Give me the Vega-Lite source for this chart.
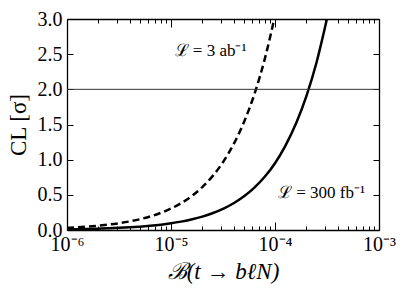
{
  "$schema": "https://vega.github.io/schema/vega-lite/v6.json",
  "width": 312,
  "height": 211,
  "autosize": {"type": "none"},
  "padding": {"left": 67, "top": 19, "right": 28, "bottom": 62},
  "config": {
    "view": {"stroke": null},
    "font": "Liberation Serif",
    "axis": {
      "domainColor": "#000",
      "domainWidth": 1.3,
      "tickColor": "#000",
      "tickWidth": 1,
      "labelColor": "#000",
      "titleColor": "#000",
      "labelFont": "Liberation Serif",
      "titleFont": "Liberation Serif",
      "labelFontSize": 20,
      "titleFontSize": 23,
      "titleFontWeight": "normal",
      "grid": false
    }
  },
  "datasets": {
    "curves": [
      {"series": "300fb", "B": 1e-6, "CL": 0.0095},
      {"series": "300fb", "B": 1.25e-6, "CL": 0.0119},
      {"series": "300fb", "B": 1.6e-6, "CL": 0.0152},
      {"series": "300fb", "B": 2e-6, "CL": 0.019},
      {"series": "300fb", "B": 2.5e-6, "CL": 0.0238},
      {"series": "300fb", "B": 3.2e-6, "CL": 0.0304},
      {"series": "300fb", "B": 4e-6, "CL": 0.038},
      {"series": "300fb", "B": 5e-6, "CL": 0.0475},
      {"series": "300fb", "B": 6.3e-6, "CL": 0.0599},
      {"series": "300fb", "B": 8e-6, "CL": 0.076},
      {"series": "300fb", "B": 1e-5, "CL": 0.095},
      {"series": "300fb", "B": 1.25e-5, "CL": 0.119},
      {"series": "300fb", "B": 1.6e-5, "CL": 0.152},
      {"series": "300fb", "B": 2e-5, "CL": 0.19},
      {"series": "300fb", "B": 2.5e-5, "CL": 0.238},
      {"series": "300fb", "B": 3.2e-5, "CL": 0.304},
      {"series": "300fb", "B": 4e-5, "CL": 0.38},
      {"series": "300fb", "B": 5e-5, "CL": 0.475},
      {"series": "300fb", "B": 6.3e-5, "CL": 0.599},
      {"series": "300fb", "B": 8e-5, "CL": 0.76},
      {"series": "300fb", "B": 1e-4, "CL": 0.95},
      {"series": "300fb", "B": 1.25e-4, "CL": 1.19},
      {"series": "300fb", "B": 1.6e-4, "CL": 1.52},
      {"series": "300fb", "B": 2e-4, "CL": 1.9},
      {"series": "300fb", "B": 2.5e-4, "CL": 2.375},
      {"series": "300fb", "B": 3.2e-4, "CL": 3.04},
      {"series": "3ab", "B": 1e-6, "CL": 0.0305},
      {"series": "3ab", "B": 1.25e-6, "CL": 0.0381},
      {"series": "3ab", "B": 1.6e-6, "CL": 0.0488},
      {"series": "3ab", "B": 2e-6, "CL": 0.061},
      {"series": "3ab", "B": 2.5e-6, "CL": 0.0763},
      {"series": "3ab", "B": 3.2e-6, "CL": 0.0976},
      {"series": "3ab", "B": 4e-6, "CL": 0.122},
      {"series": "3ab", "B": 5e-6, "CL": 0.1525},
      {"series": "3ab", "B": 6.3e-6, "CL": 0.192},
      {"series": "3ab", "B": 8e-6, "CL": 0.244},
      {"series": "3ab", "B": 1e-5, "CL": 0.305},
      {"series": "3ab", "B": 1.25e-5, "CL": 0.381},
      {"series": "3ab", "B": 1.6e-5, "CL": 0.488},
      {"series": "3ab", "B": 2e-5, "CL": 0.61},
      {"series": "3ab", "B": 2.5e-5, "CL": 0.763},
      {"series": "3ab", "B": 3.2e-5, "CL": 0.976},
      {"series": "3ab", "B": 4e-5, "CL": 1.22},
      {"series": "3ab", "B": 5e-5, "CL": 1.525},
      {"series": "3ab", "B": 6.3e-5, "CL": 1.92},
      {"series": "3ab", "B": 8e-5, "CL": 2.44},
      {"series": "3ab", "B": 1e-4, "CL": 3.05}
    ],
    "labels": [
      {"series": "3ab", "x": 2.4e-5, "y": 2.54, "label": "ℒ = 3 ab⁻¹"},
      {"series": "300fb", "x": 2.8e-4, "y": 0.53, "label": "ℒ = 300 fb⁻¹"}
    ],
    "ref": [{"y": 2}]
  },
  "layer": [
    {
      "data": {"name": "curves"},
      "transform": [{"filter": "datum.series == '300fb'"}],
      "mark": {"type": "line", "color": "#000", "strokeWidth": 2.5, "clip": true, "interpolate": "monotone"},
      "encoding": {
        "x": {
          "field": "B", "type": "quantitative",
          "scale": {"type": "log", "domain": [1e-6, 1e-3], "nice": false},
          "axis": {
            "orient": "bottom",
            "values": [1e-6, 1e-5, 1e-4, 1e-3],
            "tickSize": -8,
            "labelPadding": 12,
            "labelFlush": false,
            "labelOverlap": false,
            "labelExpr": "round(log(datum.value)/LN10) == -6 ? '10⁻⁶' : round(log(datum.value)/LN10) == -5 ? '10⁻⁵' : round(log(datum.value)/LN10) == -4 ? '10⁻⁴' : '10⁻³'",
            "title": "ℬ(t → bℓN)",
            "titleFontStyle": "italic",
            "titlePadding": 6
          }
        },
        "y": {
          "field": "CL", "type": "quantitative",
          "scale": {"domain": [0, 3], "nice": false},
          "axis": {
            "orient": "left",
            "values": [0, 0.5, 1, 1.5, 2, 2.5, 3],
            "format": ".1f",
            "tickSize": -6,
            "labelPadding": 11,
            "labelFlush": false,
            "labelOverlap": false,
            "title": "CL [σ]",
            "titlePadding": 7
          }
        }
      }
    },
    {
      "data": {"name": "curves"},
      "transform": [{"filter": "datum.series == '3ab'"}],
      "mark": {"type": "line", "color": "#000", "strokeWidth": 2.5, "strokeDash": [7, 4], "clip": true, "interpolate": "monotone"},
      "encoding": {
        "x": {
          "field": "B", "type": "quantitative",
          "axis": {"orient": "top", "values": [1e-6, 1e-5, 1e-4, 1e-3], "tickSize": -8, "labels": false, "title": null}
        },
        "y": {
          "field": "CL", "type": "quantitative",
          "axis": {"orient": "right", "values": [0, 0.5, 1, 1.5, 2, 2.5, 3], "tickSize": -6, "labels": false, "title": null}
        }
      }
    },
    {
      "data": {"name": "ref"},
      "mark": {"type": "rule", "color": "#333", "strokeWidth": 1},
      "encoding": {
        "y": {"field": "y", "type": "quantitative", "axis": null}
      }
    },
    {
      "data": {"name": "labels"},
      "transform": [{"filter": "datum.series == '3ab'"}],
      "mark": {"type": "text", "fontSize": 17, "color": "#000", "align": "center", "baseline": "middle", "font": "Liberation Serif"},
      "encoding": {
        "x": {
          "field": "x", "type": "quantitative",
          "axis": {"orient": "bottom", "values": [2e-6, 3e-6, 4e-6, 5e-6, 6e-6, 7e-6, 8e-6, 9e-6, 2e-5, 3e-5, 4e-5, 5e-5, 6e-5, 7e-5, 8e-5, 9e-5, 2e-4, 3e-4, 4e-4, 5e-4, 6e-4, 7e-4, 8e-4, 9e-4], "tickSize": -4, "labels": false, "domain": false, "title": null}
        },
        "y": {"field": "y", "type": "quantitative", "axis": null},
        "text": {"field": "label"}
      }
    },
    {
      "data": {"name": "labels"},
      "transform": [{"filter": "datum.series == '300fb'"}],
      "mark": {"type": "text", "fontSize": 17, "color": "#000", "align": "center", "baseline": "middle", "font": "Liberation Serif"},
      "encoding": {
        "x": {
          "field": "x", "type": "quantitative",
          "axis": {"orient": "top", "values": [2e-6, 3e-6, 4e-6, 5e-6, 6e-6, 7e-6, 8e-6, 9e-6, 2e-5, 3e-5, 4e-5, 5e-5, 6e-5, 7e-5, 8e-5, 9e-5, 2e-4, 3e-4, 4e-4, 5e-4, 6e-4, 7e-4, 8e-4, 9e-4], "tickSize": -4, "labels": false, "domain": false, "title": null}
        },
        "y": {"field": "y", "type": "quantitative", "axis": null},
        "text": {"field": "label"}
      }
    }
  ]
}
